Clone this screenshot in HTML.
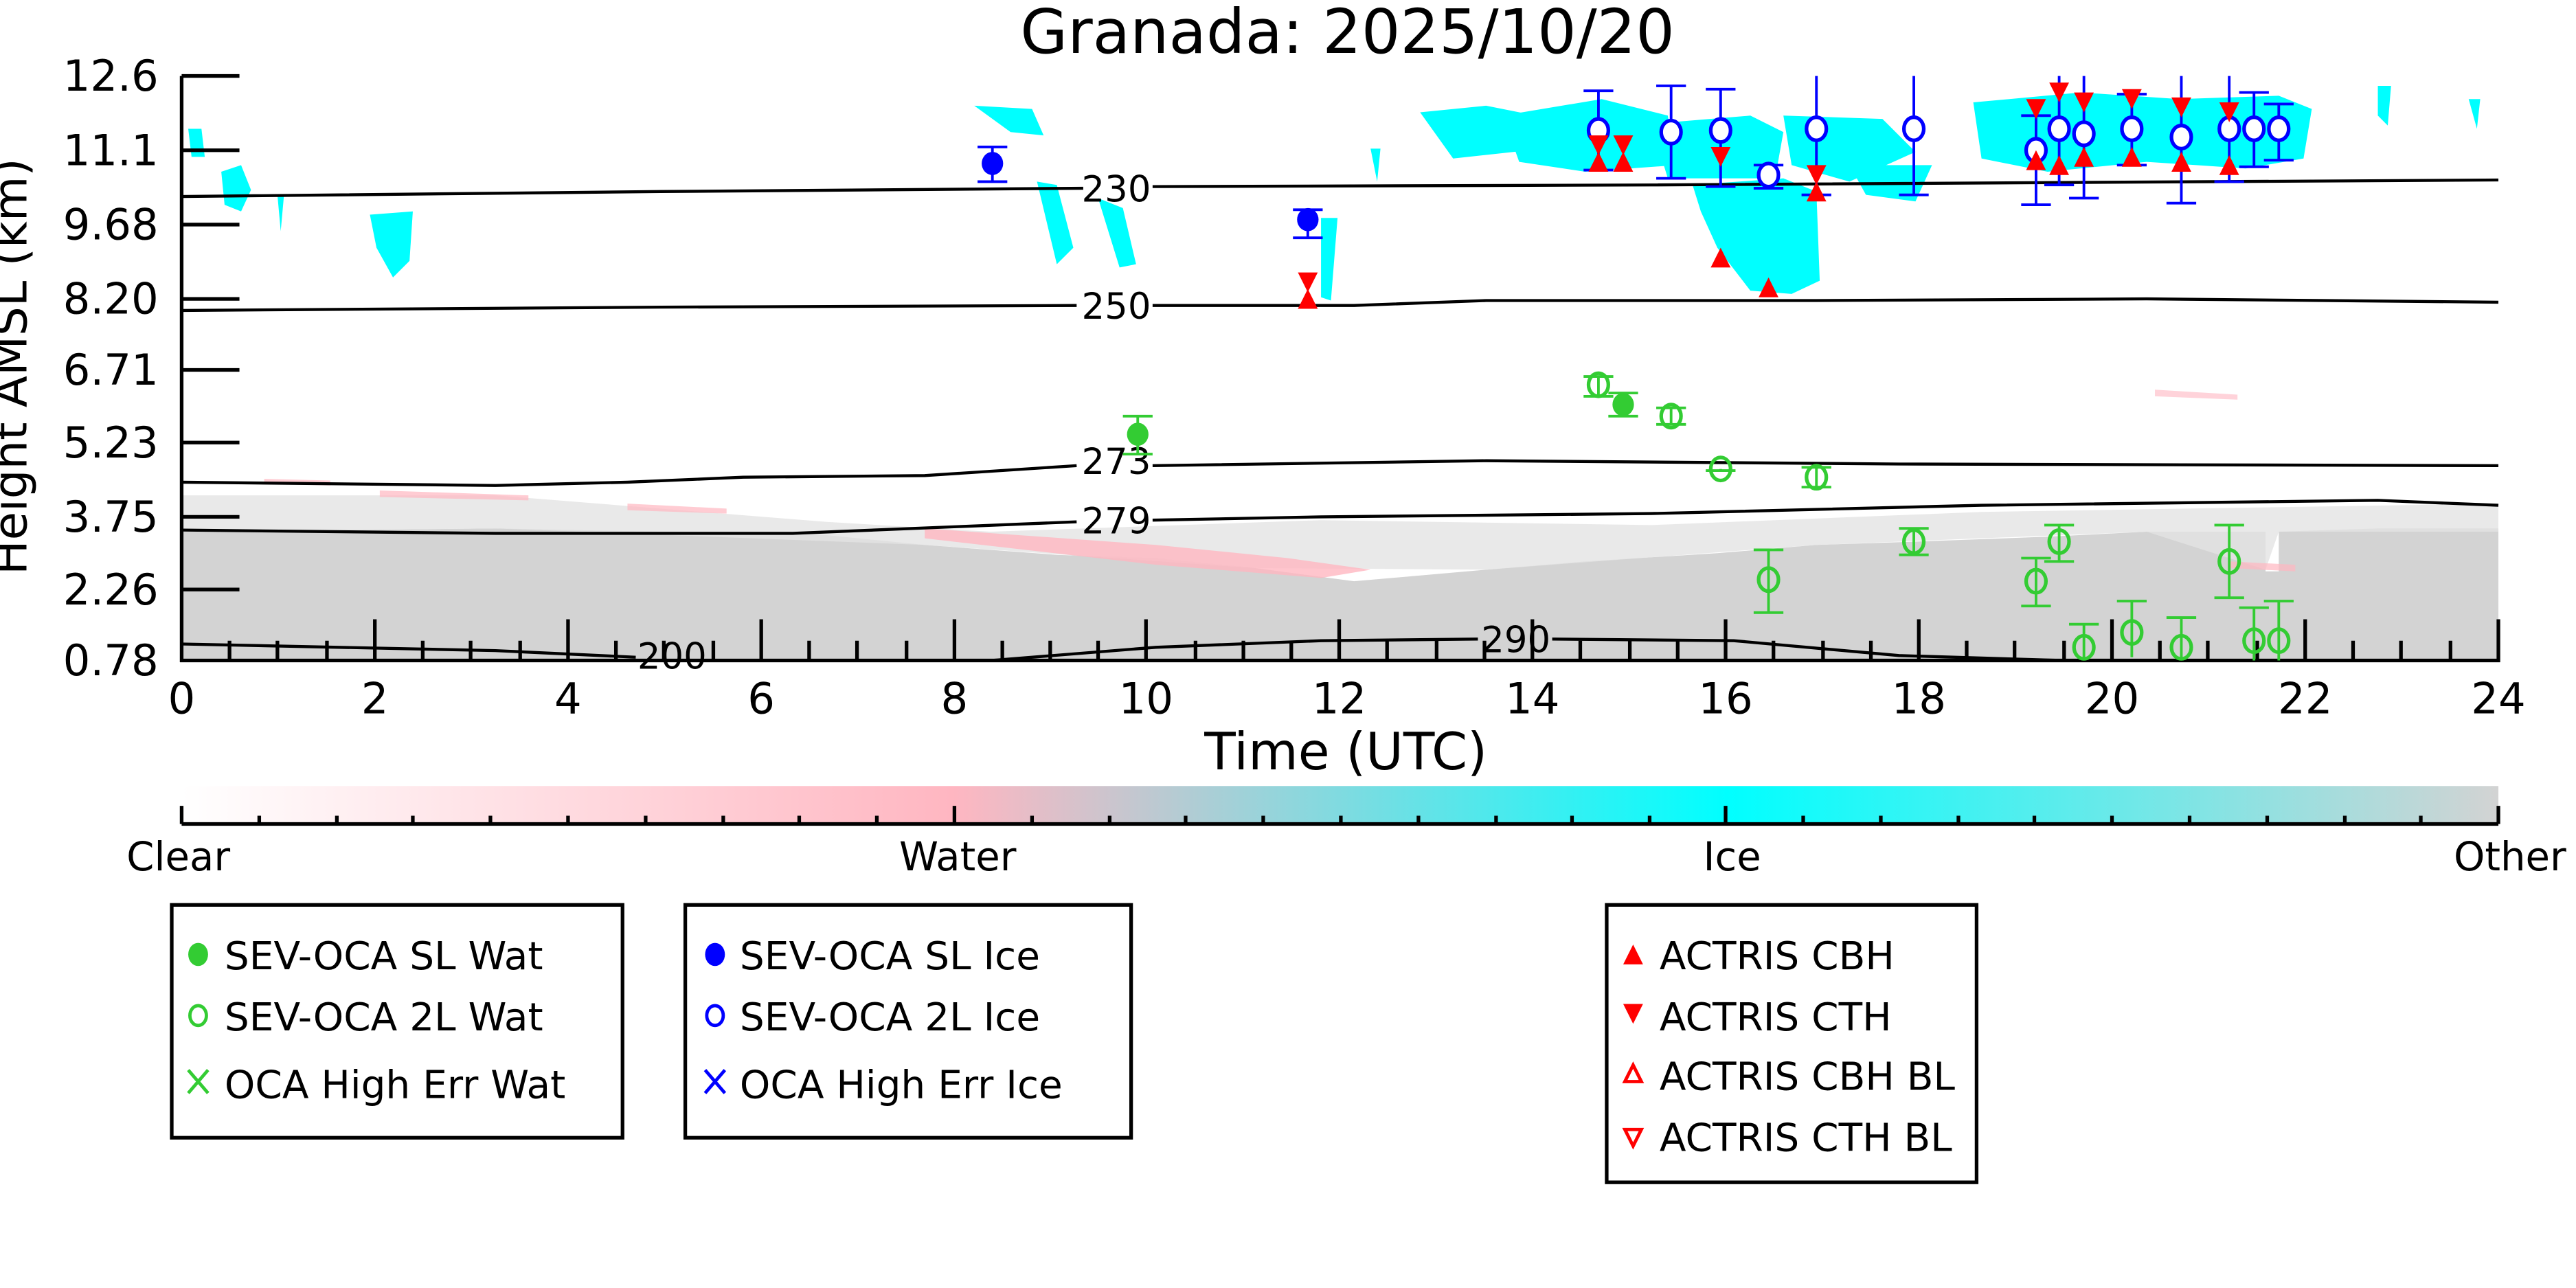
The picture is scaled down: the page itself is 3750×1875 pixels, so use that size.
<!DOCTYPE html>
<html><head><meta charset="utf-8"><style>html,body{margin:0;padding:0;background:#fff}svg{display:block}</style></head>
<body>
<svg xmlns="http://www.w3.org/2000/svg" width="3750" height="1875" viewBox="0 0 1560 780" font-family="'DejaVu Sans','Liberation Sans',sans-serif">
<defs>
<linearGradient id="cb" x1="0" x2="1" y1="0" y2="0">
<stop offset="0" stop-color="#ffffff"/>
<stop offset="0.333" stop-color="#ffb6c1"/>
<stop offset="0.667" stop-color="#00ffff"/>
<stop offset="1" stop-color="#d3d3d3"/>
</linearGradient>
<g id="up"><polygon points="-6,6 6,6 0,-6" fill="#f00"/></g>
<g id="dn"><polygon points="-6,-6 6,-6 0,6" fill="#f00"/></g>
</defs>
<rect width="1560" height="780" fill="#fff"/>
<text x="816" y="32" font-size="37" text-anchor="middle">Granada: 2025/10/20</text>

<!-- grey cloud/other region -->
<polygon fill="#d3d3d3" points="110,400 110,322 300,320 500,324 560,330 640,336 700,338 760,344 820,352 900,345 960,340 1040,335 1100,330 1160,328 1240,325 1300,322 1372,322 1372,346 1380,346 1380,322 1440,320 1513,320 1513,400"/>
<polygon fill="#e3e3e3" opacity="0.8" points="110,322 110,300 300,300 500,316 600,322 800,315 1000,318 1200,310 1513,305 1513,322 1380,322 1372,345 1300,322 1100,330 900,345 760,344 560,330 300,320"/>
<polygon fill="#ffb6c1" opacity="0.8" points="560,320 700,330 780,338 830,345 800,350 700,342 560,326"/>
<polygon fill="#ffb6c1" opacity="0.7" points="230,297 320,300 320,303 230,301"/>
<polygon fill="#ffb6c1" opacity="0.7" points="160,290 200,291 200,294 160,293"/>
<polygon fill="#ffb6c1" opacity="0.7" points="380,305 440,308 440,311 380,309"/>
<polygon fill="#ffb6c1" opacity="0.7" points="1350,340 1390,342 1390,346 1350,344"/>
<polygon fill="#ffb6c1" opacity="0.6" points="1305,236 1355,239 1355,242 1305,240"/>

<!-- cyan ice -->
<g fill="#00ffff">
<polygon points="114,78 122,78 124,95 116,95"/>
<polygon points="134,104 146,100 152,115 146,128 136,124"/>
<polygon points="168,118 172,118 170,140"/>
<polygon points="224,130 250,128 248,158 238,168 228,150"/>
<polygon points="590,64 625,66 632,82 612,80"/>
<polygon points="628,110 640,112 650,150 640,160"/>
<polygon points="665,120 680,126 688,160 678,162"/>
<polygon points="800,132 810,132 806,182 800,180"/>
<polygon points="830,90 836,90 834,110"/>
<polygon points="860,68 900,64 930,70 935,90 880,96"/>
<polygon points="910,70 970,60 1010,70 1015,100 960,104 920,98"/>
<polygon points="1000,75 1060,70 1080,80 1075,108 1010,108"/>
<polygon points="1025,112 1080,108 1100,116 1102,170 1085,178 1060,176 1040,150 1030,128"/>
<polygon points="1080,70 1140,72 1160,92 1120,110 1085,100"/>
<polygon points="1120,100 1170,100 1160,122 1130,118"/>
<polygon points="1195,62 1260,56 1320,60 1380,58 1400,66 1395,96 1360,102 1300,98 1240,104 1200,96"/>
<polygon points="1440,52 1448,52 1446,76 1440,70"/>
<polygon points="1495,60 1502,60 1500,78"/>
</g>

<!-- contours -->
<g fill="none" stroke="#000" stroke-width="1.8">
<polyline points="110,119 400,116 656,114"/><polyline points="698,113 1000,112 1513,109"/>
<polyline points="110,188 400,186 652,185"/><polyline points="698,185 820,185 900,182 1100,182 1300,181 1513,183"/>
<polyline points="110,292 300,294 380,292 450,289 560,288 652,282"/><polyline points="698,282 900,279 1150,281 1513,282"/>
<polyline points="110,321 300,323 480,323 652,316"/><polyline points="698,315 800,313 1000,311 1200,306 1440,303 1513,306"/>
<polyline points="110,390 300,394 385,398"/><polyline points="430,400 600,400 700,392 800,388 895,387"/><polyline points="940,387 1050,388 1150,397 1250,400 1513,400"/>
</g>
<g font-size="22" text-anchor="middle">
<text x="676" y="122">230</text>
<text x="676" y="193">250</text>
<text x="676" y="287">273</text>
<text x="676" y="323">279</text>
<text x="918" y="395">290</text>
<text x="407" y="405">200</text>
</g>

<!-- axes -->
<g stroke="#000" stroke-width="2.2" fill="none">
<line x1="110" y1="46" x2="110" y2="401"/>
<line x1="109" y1="400" x2="1514" y2="400"/>
<line x1="1513" y1="375" x2="1513" y2="401"/>
<path d="M110,46h35M110,91h35M110,136h35M110,181h35M110,224h35M110,268h35M110,313h35M110,357h35"/>
<path d="M227,375v25M344,375v25M461,375v25M578,375v25M694,375v25M811,375v25M928,375v25M1045,375v25M1162,375v25M1279,375v25M1396,375v25"/>
<path d="M139,388v12M168,388v12M198,388v12M256,388v12M285,388v12M315,388v12M373,388v12M402,388v12M432,388v12M490,388v12M519,388v12M549,388v12M607,388v12M636,388v12M665,388v12M724,388v12M753,388v12M782,388v12M840,388v12M870,388v12M899,388v12M957,388v12M987,388v12M1016,388v12M1074,388v12M1104,388v12M1133,388v12M1191,388v12M1220,388v12M1250,388v12M1308,388v12M1337,388v12M1367,388v12M1425,388v12M1454,388v12M1484,388v12"/>
</g>
<g font-size="26" text-anchor="end">
<text x="96" y="55">12.6</text><text x="96" y="100">11.1</text><text x="96" y="145">9.68</text><text x="96" y="190">8.20</text>
<text x="96" y="233">6.71</text><text x="96" y="277">5.23</text><text x="96" y="322">3.75</text><text x="96" y="366">2.26</text><text x="96" y="409">0.78</text>
</g>
<g font-size="26" text-anchor="middle">
<text x="110" y="432">0</text><text x="227" y="432">2</text><text x="344" y="432">4</text><text x="461" y="432">6</text><text x="578" y="432">8</text>
<text x="694" y="432">10</text><text x="811" y="432">12</text><text x="928" y="432">14</text><text x="1045" y="432">16</text><text x="1162" y="432">18</text>
<text x="1279" y="432">20</text><text x="1396" y="432">22</text><text x="1513" y="432">24</text>
</g>
<text x="815" y="466" font-size="31" text-anchor="middle">Time (UTC)</text>
<text transform="translate(16,222) rotate(-90)" font-size="28" text-anchor="middle">Height AMSL (km)</text>

<!-- error bars & markers -->
<g stroke-width="1.6" fill="none">
<g stroke="#0000ff">
<path d="M601,89v21M592,89h18M592,110h18M792,127v17M783,127h18M783,144h18"/>
<path d="M968,55v48M959,55h18M959,103h18 M1012,52v56M1003,52h18M1003,108h18 M1042,54v59M1033,54h18M1033,113h18 M1071,100v14M1062,100h18M1062,114h18 M1100,46v72M1091,118h18 M1159,46v72M1150,118h18 M1233,70v54M1224,70h18M1224,124h18 M1247,46v66M1238,112h18 M1262,46v74M1253,120h18 M1291,57v43M1282,57h18M1282,100h18 M1321,46v77M1312,123h18 M1350,46v64M1341,110h18 M1365,56v45M1356,56h18M1356,101h18 M1380,63v34M1371,63h18M1371,97h18"/>
</g>
<g stroke="#33cc33">
<path d="M689,252v23M680,252h18M680,275h18 M983,238v14M974,238h18M974,252h18"/>
<path d="M968,228v12M959,228h18M959,240h18 M1012,247v10M1003,247h18M1003,257h18 M1042,284v1M1033,285h18 M1100,283v12M1091,283h18M1091,295h18 M1159,320v16M1150,320h18M1150,336h18 M1071,333v38M1062,333h18M1062,371h18 M1233,338v29M1224,338h18M1224,367h18 M1247,318v22M1238,318h18M1238,340h18 M1262,378v22M1253,378h18 M1291,364v34M1282,364h18 M1321,374v26M1312,374h18 M1350,318v44M1341,318h18M1341,362h18 M1365,368v32M1356,368h18 M1380,364v36M1371,364h18"/>
</g>
</g>
<g fill="#0000ff"><ellipse cx="601" cy="99" rx="6.5" ry="7"/><ellipse cx="792" cy="133" rx="6.5" ry="7"/></g>
<g fill="#33cc33"><ellipse cx="689" cy="263" rx="6.5" ry="7"/><ellipse cx="983" cy="245" rx="6.5" ry="7"/></g>
<g fill="#fff" stroke="#0000ff" stroke-width="2.2">
<ellipse cx="968" cy="79" rx="6" ry="7"/><ellipse cx="1012" cy="80" rx="6" ry="7"/><ellipse cx="1042" cy="79" rx="6" ry="7"/><ellipse cx="1071" cy="106" rx="6" ry="7"/><ellipse cx="1100" cy="78" rx="6" ry="7"/><ellipse cx="1159" cy="78" rx="6" ry="7"/><ellipse cx="1233" cy="91" rx="6" ry="7"/><ellipse cx="1247" cy="78" rx="6" ry="7"/><ellipse cx="1262" cy="81" rx="6" ry="7"/><ellipse cx="1291" cy="78" rx="6" ry="7"/><ellipse cx="1321" cy="83" rx="6" ry="7"/><ellipse cx="1350" cy="78" rx="6" ry="7"/><ellipse cx="1365" cy="78" rx="6" ry="7"/><ellipse cx="1380" cy="78" rx="6" ry="7"/>
</g>
<g fill="none" stroke="#33cc33" stroke-width="2.2">
<ellipse cx="968" cy="233" rx="6" ry="7"/><ellipse cx="1012" cy="252" rx="6" ry="7"/><ellipse cx="1042" cy="284" rx="6" ry="7"/><ellipse cx="1100" cy="289" rx="6" ry="7"/><ellipse cx="1159" cy="328" rx="6" ry="7"/><ellipse cx="1071" cy="351" rx="6" ry="7"/><ellipse cx="1233" cy="352" rx="6" ry="7"/><ellipse cx="1247" cy="328" rx="6" ry="7"/><ellipse cx="1262" cy="392" rx="6" ry="7"/><ellipse cx="1291" cy="383" rx="6" ry="7"/><ellipse cx="1321" cy="392" rx="6" ry="7"/><ellipse cx="1350" cy="340" rx="6" ry="7"/><ellipse cx="1365" cy="388" rx="6" ry="7"/><ellipse cx="1380" cy="388" rx="6" ry="7"/>
</g>
<use href="#dn" x="792" y="171"/><use href="#up" x="792" y="181"/>
<use href="#dn" x="968" y="88"/><use href="#up" x="968" y="98"/>
<use href="#dn" x="983" y="88"/><use href="#up" x="983" y="98"/>
<use href="#dn" x="1100" y="106"/><use href="#up" x="1100" y="116"/>
<use href="#dn" x="1042" y="95"/><use href="#up" x="1042" y="156"/><use href="#up" x="1071" y="174"/>
<use href="#dn" x="1233" y="66"/><use href="#up" x="1233" y="97"/>
<use href="#dn" x="1247" y="56"/><use href="#up" x="1247" y="100"/>
<use href="#dn" x="1262" y="62"/><use href="#up" x="1262" y="95"/>
<use href="#dn" x="1291" y="60"/><use href="#up" x="1291" y="95"/>
<use href="#dn" x="1321" y="65"/><use href="#up" x="1321" y="98"/>
<use href="#dn" x="1350" y="68"/><use href="#up" x="1350" y="100"/>

<!-- colorbar -->
<rect x="110" y="476" width="1403" height="23" fill="url(#cb)"/>
<g stroke="#000" stroke-width="2.2" fill="none">
<path d="M110,499h1403M110,488v11M1513,488v11M578,488v11M1045,488v11"/>
<path d="M157,494v5M204,494v5M250,494v5M297,494v5M344,494v5M391,494v5M438,494v5M484,494v5M531,494v5M625,494v5M672,494v5M718,494v5M765,494v5M812,494v5M859,494v5M906,494v5M952,494v5M999,494v5M1092,494v5M1139,494v5M1186,494v5M1232,494v5M1279,494v5M1326,494v5M1373,494v5M1420,494v5M1466,494v5"/>
</g>
<g font-size="24" text-anchor="middle">
<text x="108" y="527">Clear</text><text x="580" y="527">Water</text><text x="1049" y="527">Ice</text><text x="1520" y="527">Other</text>
</g>

<!-- legends -->
<g fill="none" stroke="#000" stroke-width="2.2">
<rect x="104" y="548" width="273" height="141"/>
<rect x="415" y="548" width="270" height="141"/>
<rect x="973" y="548" width="224" height="168"/>
</g>
<g font-size="23.5">
<ellipse cx="120" cy="578" rx="6" ry="7" fill="#33cc33"/>
<ellipse cx="120" cy="615" rx="5" ry="6" fill="none" stroke="#33cc33" stroke-width="2"/>
<path d="M114,648l12,14M126,648l-12,14" stroke="#33cc33" stroke-width="2"/>
<text x="136" y="587">SEV-OCA SL Wat</text><text x="136" y="624">SEV-OCA 2L Wat</text><text x="136" y="665">OCA High Err Wat</text>
<ellipse cx="433" cy="578" rx="6" ry="7" fill="#0000ff"/>
<ellipse cx="433" cy="615" rx="5" ry="6" fill="none" stroke="#0000ff" stroke-width="2"/>
<path d="M427,648l12,14M439,648l-12,14" stroke="#0000ff" stroke-width="2"/>
<text x="448" y="587">SEV-OCA SL Ice</text><text x="448" y="624">SEV-OCA 2L Ice</text><text x="448" y="665">OCA High Err Ice</text>
<use href="#up" x="989" y="578"/><use href="#dn" x="989" y="614"/>
<polygon points="984,655 994,655 989,645" fill="none" stroke="#f00" stroke-width="2"/>
<polygon points="984,684 994,684 989,694" fill="none" stroke="#f00" stroke-width="2"/>
<text x="1005" y="587">ACTRIS CBH</text><text x="1005" y="624">ACTRIS CTH</text><text x="1005" y="660">ACTRIS CBH BL</text><text x="1005" y="697">ACTRIS CTH BL</text>
</g>
</svg>
</body></html>
